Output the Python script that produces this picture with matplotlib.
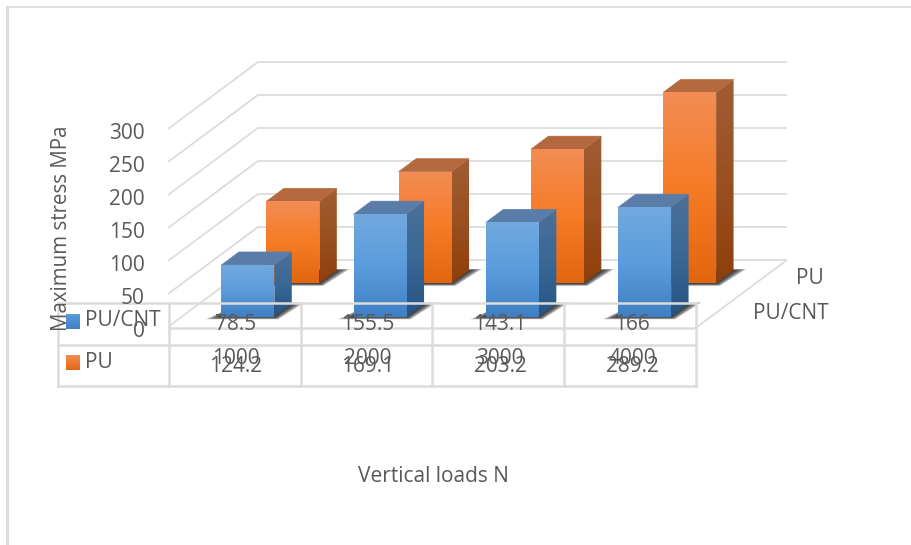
import numpy as np
import matplotlib
matplotlib.use("Agg")
import matplotlib.pyplot as plt
from matplotlib.patches import Polygon
from matplotlib.transforms import blended_transform_factory

plt.rcParams["font.family"] = ["Open Sans", "DejaVu Sans"]

# Chart values
categories = ["1000", "2000", "3000", "4000"]
series_names = ["PU/CNT", "PU"]
pu_cnt_values = [78.5, 155.5, 143.1, 166]
pu_values = [124.2, 169.1, 203.2, 289.2]
value_ticks = [0, 50, 100, 150, 200, 250, 300]
value_label = "Maximum stress MPa"
category_label = "Vertical loads N"

# Styling
W, H = 912, 545
GRID = "#dcdcdc"
TEXT = "#595959"
FONT_PT = 15
BAR_W = 0.40
BAR_D = 0.194
CAT_PX = 132.25        # width of one category
MPA_PX = 0.66          # height of one MPa
SKEW_X = 90 / CAT_PX   # depth axis expressed in category units
SKEW_Y = 67 / MPA_PX   # depth axis expressed in MPa
SERIES_DEPTH = [0.25, 0.75]
X_MAX, Y_MAX = 5, 450  # head room so the projected bars stay inside the axes

BLUE = dict(front=["#72a9df", "#5a9cdc", "#3f80c4"],
            side=["#4b7099", "#3a6895", "#265483"],
            top="#5a7ca8", swatch=["#5a9cdc", "#3f80c4"])
ORANGE = dict(front=["#f28d55", "#f67b25", "#e2660f"],
              side=["#a15d35", "#9a5020", "#8e3f0b"],
              top="#b3683e", swatch=["#f28d55", "#e2660f"])

fig = plt.figure(figsize=(W / 100, H / 100), dpi=100, facecolor="white")
ax = fig.add_axes([168 / W, 1 - 327 / H, X_MAX * CAT_PX / W, Y_MAX * MPA_PX / H])
ax.set_xlim(0, X_MAX)
ax.set_ylim(0, Y_MAX)
ax.axis("off")

overlay = fig.add_axes([0, 0, 1, 1], zorder=5)
overlay.set_xlim(0, W)
overlay.set_ylim(H, 0)
overlay.axis("off")
overlay.patch.set_alpha(0)


def project(x, value, depth):
    """Oblique projection of (category, value, depth) onto the front plane."""
    return x + depth * SKEW_X, value + depth * SKEW_Y


def ramp(stops, n=256):
    pos = np.linspace(0, 1, len(stops))
    rgb = np.array([matplotlib.colors.to_rgb(c) for c in stops])
    t = np.linspace(0, 1, n)
    return np.stack([np.interp(t, pos, rgb[:, i]) for i in range(3)], axis=1)[:, None, :]


def gradient_poly(points, stops, z):
    pts = np.array(points)
    clip = Polygon(pts, closed=True, transform=ax.transData, fc="none", ec="none")
    ax.add_patch(clip)
    im = ax.imshow(ramp(stops), origin="upper", aspect="auto", zorder=z, interpolation="bilinear",
                   extent=(pts[:, 0].min(), pts[:, 0].max(), pts[:, 1].min(), pts[:, 1].max()))
    im.set_clip_path(clip)


def shadow(x0, x1, d0, d1, z):
    # Soft contact shadow: stacked translucent footprints that grow outwards
    base = np.array([project(x0, 0, d0), project(x1, 0, d0), project(x1, 0, d1), project(x0, 0, d1)])
    spread = np.array([[-0.12, -4], [0.03, -4], [0.10, 2], [0.0, 0]])
    for s in np.linspace(1, 0.1, 12):
        ax.add_patch(Polygon(base + spread * s, closed=True, fc="#202020", ec="none",
                             alpha=0.14, zorder=z, clip_on=False))


def bar(i, value, depth, style, z):
    x0 = i + 0.5 - BAR_W / 2
    x1 = x0 + BAR_W
    d0, d1 = depth - BAR_D / 2, depth + BAR_D / 2
    shadow(x0, x1, d0, d1, z)
    front = [project(x0, 0, d0), project(x1, 0, d0), project(x1, value, d0), project(x0, value, d0)]
    side = [project(x1, 0, d0), project(x1, 0, d1), project(x1, value, d1), project(x1, value, d0)]
    top = [project(x0, value, d0), project(x1, value, d0), project(x1, value, d1), project(x0, value, d1)]
    gradient_poly(side, style["side"], z + 0.1)
    ax.add_patch(Polygon(top, closed=True, fc=style["top"], ec=style["top"], lw=0.4, zorder=z + 0.2, clip_on=False))
    gradient_poly(front, style["front"], z + 0.3)


# Back wall, side wall and floor
grid_kw = dict(color=GRID, lw=1.3, zorder=1, clip_on=False, solid_capstyle="butt")
for v in value_ticks:
    xs, ys = zip(project(0, v, 0), project(0, v, 1), project(4, v, 1))
    ax.plot(xs, ys, **grid_kw)
xs, ys = zip(project(4, 0, 1), project(4, 0, 0))
ax.plot(xs, ys, **grid_kw)

# Rear row first so the nearer bars overlap it
for i, value in enumerate(pu_values):
    bar(i, value, SERIES_DEPTH[1], ORANGE, 2 + i * 0.5)
for i, value in enumerate(pu_cnt_values):
    bar(i, value, SERIES_DEPTH[0], BLUE, 6 + i * 0.5)
ax.set_xlim(0, X_MAX)
ax.set_ylim(0, Y_MAX)

# Frame of the chart area
overlay.plot([7.5, 7.5], [6, H], color=GRID, lw=2.2, solid_capstyle="butt")
overlay.plot([6, W], [6.5, 6.5], color=GRID, lw=1.2, solid_capstyle="butt")

# Data table
tk = dict(color=GRID, lw=1.8, solid_capstyle="projecting")
overlay.plot([58, 696], [303, 303], **tk)
overlay.plot([169, 696], [328, 328], **tk)
overlay.plot([58, 696], [344.5, 344.5], **tk)
overlay.plot([58, 696], [385.5, 385.5], **tk)
overlay.plot([58, 58], [303, 385.5], **tk)
for i in range(5):
    px = 169 + i * 131.75
    overlay.plot([px, px], [303, 385.5], **tk)

x_data_y_px = blended_transform_factory(ax.transData, overlay.transData)
txt = dict(color=TEXT, fontsize=FONT_PT, ha="center", va="center")
for i, cat in enumerate(categories):
    overlay.text(i + 0.51, 359, cat, transform=x_data_y_px, **txt)
for row_y, values in zip((324.5, 366.5), (pu_cnt_values, pu_values)):
    for i, value in enumerate(values):
        overlay.text(i + 0.51, row_y, f"{value:g}", transform=x_data_y_px, **txt)

# Legend keys inside the table
for row_y, name, style in zip((321.5, 363), series_names, (BLUE, ORANGE)):
    overlay.imshow(ramp(style["swatch"]), aspect="auto", interpolation="bilinear",
                   extent=(66, 80, row_y + 7.5, row_y - 7.5), zorder=3)
    overlay.text(85.5, row_y - 0.5, name, color=TEXT, fontsize=FONT_PT, ha="left", va="center")
overlay.set_xlim(0, W)
overlay.set_ylim(H, 0)

# Value axis labels and titles
x_px_y_data = blended_transform_factory(overlay.transData, ax.transData)
for v in value_ticks:
    overlay.text(145, v - 6.5, str(v), transform=x_px_y_data, color=TEXT, fontsize=FONT_PT,
                 ha="right", va="center")
overlay.text(61.5, 228.5, value_label, rotation=90, color=TEXT, fontsize=14.8, ha="center", va="center")
overlay.text(433, 477, category_label, color=TEXT, fontsize=15, ha="center", va="center")

# Depth axis labels
overlay.text(824, 278.5, series_names[1], color=TEXT, fontsize=FONT_PT, ha="right", va="center")
overlay.text(829, 313.5, series_names[0], color=TEXT, fontsize=FONT_PT, ha="right", va="center")

fig.savefig("out.png", dpi=100)
